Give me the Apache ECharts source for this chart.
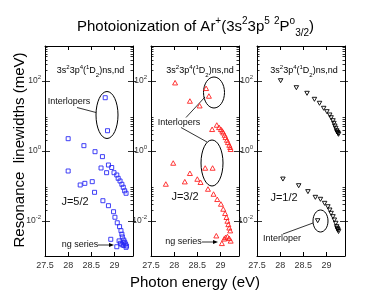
<!DOCTYPE html>
<html><head><meta charset="utf-8">
<script src="https://cdn.jsdelivr.net/npm/echarts@6/dist/echarts.min.js"></script>
<style>html,body{margin:0;padding:0;background:#fff}#c{width:391px;height:302px}</style>
</head><body><div id="c"></div>
<script>
// ---- data (photon energy eV, resonance linewidth meV) ----
const xTickLabels = [27.5, 28, 28.5, 29];
const xTicks = [28, 28.5, 29];
const yTickLabels = [0.01, 1, 100];
const yMinorTicks = [0.02,0.03,0.04,0.05,0.06,0.07,0.08,0.09, 2,3,4,5,6,7,8,9, 200,300,400,500,600,700,800,900];

const j52Points = [
  [28.80,33.3],[28.85,3.8],
  [28.00,2.25],[28.34,1.42],[28.58,0.955],[28.74,0.69],[28.71,0.327],[28.87,0.398],[28.94,0.338],[28.83,0.24],[28.99,0.24],[29.05,0.206],[29.08,0.166],[29.12,0.139],[29.16,0.112],[29.19,0.092],[29.22,0.073],[29.25,0.062],
  [28.00,0.268],[28.26,0.107],[28.36,0.119],[28.52,0.133],[28.57,0.066],[28.75,0.038],[28.87,0.0274],[28.98,0.0184],[29.01,0.0128],[29.06,0.0089],[29.11,0.0069],[29.14,0.0053],[29.16,0.0042],[29.17,0.0035],[29.20,0.00287],[29.22,0.0025],[29.24,0.0022],[29.26,0.00193],
  [28.92,0.0030],[29.05,0.00184],[29.10,0.0027],[29.13,0.0023],[29.16,0.0021],[29.19,0.0024],[29.20,0.0020],[29.25,0.00177]
];
const j32Points = [
  [28.02,89.4],[28.34,26.8],[28.55,19.7],[28.69,61.9],[28.75,37.3],[28.82,4.17],[28.92,5.53],[28.97,4.75],[29.01,4.17],[29.04,3.73],[29.06,3.33],[29.09,2.86],[29.11,2.46],[29.14,2.06],[29.16,1.77],[29.19,1.48],[29.21,1.28],[29.22,1.12],
  [27.98,0.454],[28.67,0.327],[28.83,0.327],[28.34,0.231],[27.82,0.114],[28.23,0.133],[28.50,0.158],[28.57,0.128],[28.73,0.082],[28.85,0.059],[28.93,0.0417],[29.01,0.0306],[29.06,0.022],[29.10,0.0166],[29.13,0.0128],[29.15,0.010],[29.17,0.0080],[29.19,0.0064],[29.21,0.0053],
  [28.91,0.0038],[29.03,0.0023],[29.08,0.0031],[29.11,0.0034],[29.15,0.0036],[29.19,0.0032],[29.22,0.0027]
];
const j12Points = [
  [28.01,102],[28.35,64.4],[28.58,44.5],[28.74,30],[28.85,23.1],[28.94,16.6],[29.01,13.3],[29.07,10.7],[29.10,8.94],[29.14,7.34],[29.16,6.18],[29.18,5.18],[29.20,4.46],[29.22,3.8],[29.23,3.5],[29.24,3.35],[29.25,3.2],[29.26,3.0],
  [28.06,0.158],[28.40,0.102],[28.60,0.069],[28.76,0.0475],[28.87,0.0417],[28.96,0.032],[29.03,0.0256],[29.07,0.0206],[29.10,0.0166],[29.14,0.0133],[29.17,0.0107],[29.20,0.0086],[29.22,0.0069],[29.23,0.0062],[29.24,0.0058],[29.25,0.0055],[29.26,0.0050],
  [28.81,0.0102]
];

// ---- layout ----
const FONT = '"Liberation Sans", Arial, Helvetica, sans-serif';
const panels = [
  {left:45, points:j52Points, symbol:'rect', size:4, rotate:0, color:'#2a2af5'},
  {left:151, points:j32Points, symbol:'triangle', size:[5,4.5], rotate:0, color:'#ff2020'},
  {left:257, points:j12Points, symbol:'triangle', size:[4.5,4], rotate:180, color:'#000'}
];
const TOP = 46, H = 210, W = 88;

const grid = [], xAxis = [], yAxis = [], series = [];
panels.forEach((p, i) => {
  grid.push({left:p.left, top:TOP, width:W, height:H, containLabel:false});
  const xBase = {type:'value', gridIndex:i, min:27.5, max:29.4, splitLine:{show:false},
    axisLine:{show:true, lineStyle:{color:'#000', width:1}}};
  xAxis.push(Object.assign({}, xBase, {position:'bottom',
    axisTick:{show:true, inside:true, length:4, customValues:xTicks, lineStyle:{color:'#000'}},
    axisLabel:{show:true, customValues:xTickLabels, fontSize:9, color:'#333', margin:5, fontFamily:FONT,
      formatter: v => String(v)}}));
  xAxis.push(Object.assign({}, xBase, {position:'top',
    axisTick:{show:true, inside:true, length:4, customValues:xTicks, lineStyle:{color:'#000'}},
    axisLabel:{show:false}}));
  const yBase = {type:'log', logBase:10, gridIndex:i, min:0.001, max:1000, splitLine:{show:false}, axisLabel:{show:false}};
  const mk = (pos, line, ticks, inside, len, label) => Object.assign({}, yBase, {position:pos,
    axisLine:{show:line, lineStyle:{color:'#000', width:1}},
    axisTick:{show:true, inside:inside, length:len, customValues:ticks, lineStyle:{color:'#000', width:0.8}},
    axisLabel: label || {show:false}});
  const yLabel = {show:true, customValues:yTickLabels, margin:4, fontFamily:FONT, color:'#333',
    formatter: v => '{b|10}{s|' + Math.round(Math.log10(v)) + '}',
    rich:{b:{fontSize:8.5, color:'#333', fontFamily:FONT, lineHeight:14},
          s:{fontSize:6, color:'#333', fontFamily:FONT, verticalAlign:'top', lineHeight:8}}};
  const base = yAxis.length;
  yAxis.push(mk('left', true, yTickLabels, false, 3, yLabel));
  yAxis.push(mk('left', false, yTickLabels, true, 5));
  yAxis.push(mk('left', false, yMinorTicks, true, 2.5));
  yAxis.push(mk('right', true, yTickLabels, false, 3));
  yAxis.push(mk('right', false, yTickLabels, true, 5));
  yAxis.push(mk('right', false, yMinorTicks, true, 2.5));
  series.push({type:'scatter', xAxisIndex:i*2, yAxisIndex:base, data:p.points,
    symbol:p.symbol, symbolSize:p.size, symbolRotate:p.rotate,
    itemStyle:{color:'rgba(255,255,255,0)', borderColor:p.color, borderWidth:0.9, opacity:1},
    emphasis:{disabled:true}, silent:true, animation:false});
});

// ---- annotations ----
const hdrRich = {
  m:{fontSize:9, fontFamily:FONT, color:'#111', lineHeight:14},
  p:{fontSize:6, fontFamily:FONT, color:'#111', verticalAlign:'top', lineHeight:6},
  d:{fontSize:6, fontFamily:FONT, color:'#111', verticalAlign:'bottom', lineHeight:6}
};
const hdrText = '{m|3s}{p|2}{m|3p}{p|4}{m|(}{p|1}{m|D}{d|2}{m|)ns,nd}';
const txt = (x, y, t, fs) => ({type:'text', x:x, y:y, silent:true,
  style:{text:t, fontSize:fs, fontFamily:FONT, fill:'#111', align:'center', verticalAlign:'middle'}});
const ln = (x1,y1,x2,y2) => ({type:'line', silent:true, shape:{x1,y1,x2,y2}, style:{stroke:'#000', lineWidth:0.8}});
const ell = (cx,cy,rx,ry) => ({type:'ellipse', silent:true, shape:{cx,cy,rx,ry}, style:{fill:'none', stroke:'#000', lineWidth:1}});
const arrowHead = (x,y) => ({type:'polygon', silent:true, shape:{points:[[x,y],[x-5,y-2],[x-5,y+2]]}, style:{fill:'#000'}});

const graphic = [
  {type:'text', x:90.5, y:71, silent:true, style:{text:hdrText, rich:hdrRich, align:'center', verticalAlign:'middle'}},
  {type:'text', x:200, y:71, silent:true, style:{text:hdrText, rich:hdrRich, align:'center', verticalAlign:'middle'}},
  {type:'text', x:304, y:71, silent:true, style:{text:hdrText, rich:hdrRich, align:'center', verticalAlign:'middle'}},
  txt(69, 102, 'Interlopers', 9),
  ln(77, 107.5, 96, 112.5),
  ell(107, 115, 11, 23.5),
  txt(179, 123, 'Interlopers', 9),
  ln(186, 117.5, 205, 97),
  ln(181, 127.5, 207, 142),
  ell(214, 92.5, 10.5, 15.5),
  ell(212, 163, 11, 23),
  txt(282, 239, 'Interloper', 9),
  ln(283, 234, 313, 223),
  ell(320.5, 221, 7.5, 11),
  txt(75, 202, 'J=5/2', 11),
  txt(185, 197, 'J=3/2', 11),
  txt(284, 198, 'J=1/2', 11),
  txt(80, 245, 'ng series', 9),
  ln(98, 245, 110, 245), arrowHead(114, 245),
  txt(183.5, 242, 'ng series', 9),
  ln(202, 242, 214, 242), arrowHead(218, 242),
  {type:'text', x:20, y:150, rotation:Math.PI/2, silent:true,
    style:{text:'Resonance  linewidths (meV)', fontSize:15, fontFamily:FONT, fill:'#000', align:'center', verticalAlign:'middle'}},
  txt(195, 283, 'Photon energy (eV)', 15)
];
graphic[graphic.length-1].style.fill = '#000';

const tRich = {
  m:{fontSize:15, fontWeight:'normal', fontFamily:FONT, color:'#000', lineHeight:22},
  p:{fontSize:10, fontWeight:'normal', fontFamily:FONT, color:'#000', verticalAlign:'top', lineHeight:10},
  d:{fontSize:10, fontWeight:'normal', fontFamily:FONT, color:'#000', verticalAlign:'bottom', lineHeight:6}
};

const chart = echarts.init(document.getElementById('c'), null, {renderer:'canvas'});
chart.setOption({
  animation:false,
  backgroundColor:'#fff',
  title:{left:'center', top:16, padding:0,
    text:'{m|Photoionization of Ar}{p|+}{m|(3s}{p|2}{m|3p}{p|5}{m| }{p|2}{m|P}{p|o}{d|3/2}{m|)}',
    textStyle:{rich:tRich, fontSize:15, fontWeight:'normal', fontFamily:FONT}},
  grid, xAxis, yAxis, series, graphic
});
</script></body></html>
